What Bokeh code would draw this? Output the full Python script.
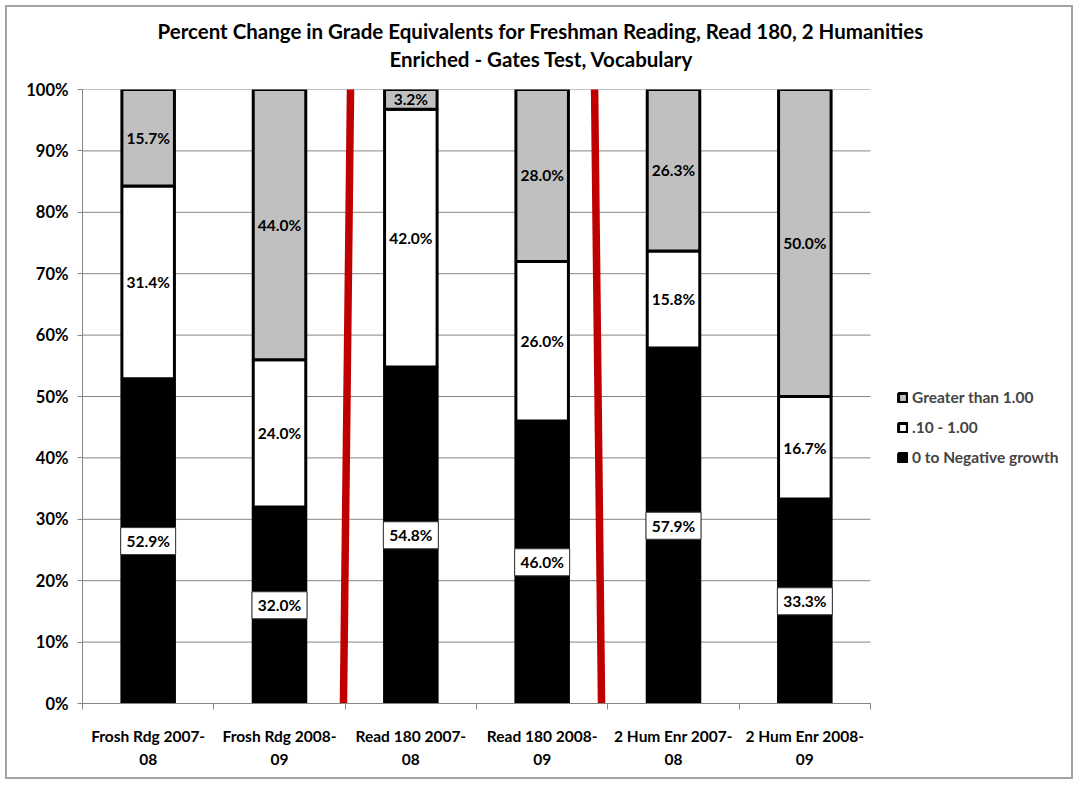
import numpy as np
from bokeh.plotting import figure
from bokeh.models import (ColumnDataSource, FixedTicker, Legend, LegendItem,
                          Range1d, Title)
from bokeh.core.properties import value
from bokeh.embed import file_html
from bokeh.resources import INLINE

# ---------------- data ----------------
categories = ["Frosh Rdg 2007-08", "Frosh Rdg 2008-09", "Read 180 2007-08",
              "Read 180 2008-09", "2 Hum Enr 2007-08", "2 Hum Enr 2008-09"]
tick_labels = ["Frosh Rdg 2007-\n08", "Frosh Rdg 2008-\n09", "Read 180 2007-\n08",
               "Read 180 2008-\n09", "2 Hum Enr 2007-\n08", "2 Hum Enr 2008-\n09"]
series_names = ["0 to Negative growth", ".10 - 1.00", "Greater than 1.00"]
neg_growth = [52.9, 32.0, 54.8, 46.0, 57.9, 33.3]
mid_growth = [31.4, 24.0, 42.0, 26.0, 15.8, 16.7]
high_growth = [15.7, 44.0, 3.2, 28.0, 26.3, 50.0]
y_ticks = [0, 10, 20, 30, 40, 50, 60, 70, 80, 90, 100]
# red divider lines (category-index units, top / bottom x)
divider_top_x = [2.041, 3.899]
divider_bottom_x = [1.987, 3.952]
title_lines = ["Percent Change in Grade Equivalents for Freshman Reading, Read 180, 2 Humanities",
               "Enriched - Gates Test, Vocabulary"]

FONT = "Lato"
GRID = "#868686"

n = len(categories)
xs = [i + 0.5 for i in range(n)]
neg = np.array(neg_growth)
mid = np.array(mid_growth)
high = np.array(high_growth)

# layout: plot area of 788 px for the categories, frame extends to the right edge
W, H = 1068, 774
left_b, right_b, top_b, bottom_b = 75, 0, 82, 78
cat_area_px = 788
frame_w = W - left_b - right_b
x_end = n * frame_w / cat_area_px

src = ColumnDataSource(dict(x=xs, neg=neg_growth, mid=mid_growth, high=high_growth))

p = figure(width=W, height=H, output_backend="svg", toolbar_location=None,
           title=None, x_range=Range1d(0, x_end), y_range=Range1d(0, 100),
           min_border_left=left_b, min_border_right=right_b, min_border_top=top_b,
           min_border_bottom=bottom_b)
p.styles = {"border": "2px solid #a3a3a3", "margin-left": "5px", "margin-top": "5px"}
p.outline_line_color = None
p.background_fill_color = "white"

# titles: first added = closest to the frame
p.add_layout(Title(text=" ", text_font_size="1px", standoff=15), "above")
p.add_layout(Title(text=title_lines[1], align="left", offset=307, text_font=FONT,
                   text_font_size="20.5px", text_font_style="bold",
                   text_color="black", standoff=2), "above")
p.add_layout(Title(text=title_lines[0], align="left", offset=75, text_font=FONT,
                   text_font_size="20.5px", text_font_style="bold",
                   text_color="black", standoff=1), "above")

# horizontal gridlines limited to the category area
p.segment(x0=[0] * len(y_ticks), x1=[n] * len(y_ticks), y0=y_ticks, y1=y_ticks,
          line_color=GRID, line_width=1)

renderers = p.vbar_stack(["neg", "mid", "high"], x="x", width=0.4, source=src,
                         fill_color=["black", "white", "#c0c0c0"],
                         line_color="black", line_width=3)

# dividers
p.segment(x0=divider_bottom_x, y0=[0, 0], x1=divider_top_x, y1=[100.3, 100.3],
          line_color="#c00000", line_width=7.5)

# labels
neg_mid_y = neg / 2
mid_mid_y = neg + mid / 2
high_mid_y = neg + mid + high / 2
fmt = lambda arr: [f"{v:.1f}%" for v in arr]

p.rect(x=xs, y=list(neg_mid_y), width=55, height=27, width_units="screen",
       height_units="screen", fill_color="white", line_color="#333333", line_width=1)
for yy, vals in [(neg_mid_y, neg), (mid_mid_y, mid), (high_mid_y, high)]:
    p.text(x=xs, y=list(yy), text=fmt(vals), text_align="center",
           text_baseline="middle", text_font=value(FONT), text_font_size="15.5px",
           text_font_style="bold", text_color="black")

# axes
p.yaxis.ticker = FixedTicker(ticks=y_ticks)
p.yaxis.major_label_overrides = {t: f"{t}%" for t in y_ticks}
p.yaxis.major_label_text_font = FONT
p.yaxis.major_label_text_font_style = "bold"
p.yaxis.major_label_text_font_size = "16.5px"
p.yaxis.major_label_text_color = "black"
p.yaxis.major_label_standoff = 9
p.yaxis.axis_line_color = GRID
p.yaxis.major_tick_line_color = GRID
p.yaxis.major_tick_out = 5
p.yaxis.major_tick_in = 0
p.yaxis.minor_tick_line_color = None

p.xaxis.ticker = FixedTicker(ticks=xs, minor_ticks=list(range(n + 1)))
p.xaxis.bounds = (0, n)
p.xaxis.major_label_overrides = {x: t for x, t in zip(xs, tick_labels)}
p.xaxis.major_label_text_font = FONT
p.xaxis.major_label_text_font_style = "bold"
p.xaxis.major_label_text_font_size = "15.5px"
p.xaxis.major_label_text_color = "black"
p.xaxis.major_label_text_line_height = 1.3
p.xaxis.major_label_standoff = 17
p.xaxis.axis_line_color = GRID
p.xaxis.major_tick_line_color = None
p.xaxis.minor_tick_line_color = GRID
p.xaxis.minor_tick_out = 6
p.xaxis.minor_tick_in = 0

p.xgrid.visible = False
p.ygrid.visible = False

legend = Legend(items=[LegendItem(label=series_names[2], renderers=[renderers[2]]),
                       LegendItem(label=series_names[1], renderers=[renderers[1]]),
                       LegendItem(label=series_names[0], renderers=[renderers[0]])],
                location=(815, 237), glyph_width=11, glyph_height=11,
                label_height=18, spacing=12, padding=0, margin=0,
                border_line_color=None, background_fill_alpha=0,
                label_text_font=FONT, label_text_font_style="bold",
                label_text_font_size="15.5px", label_standoff=4)
p.add_layout(legend)

open("out.html", "w").write(file_html(p, INLINE))
